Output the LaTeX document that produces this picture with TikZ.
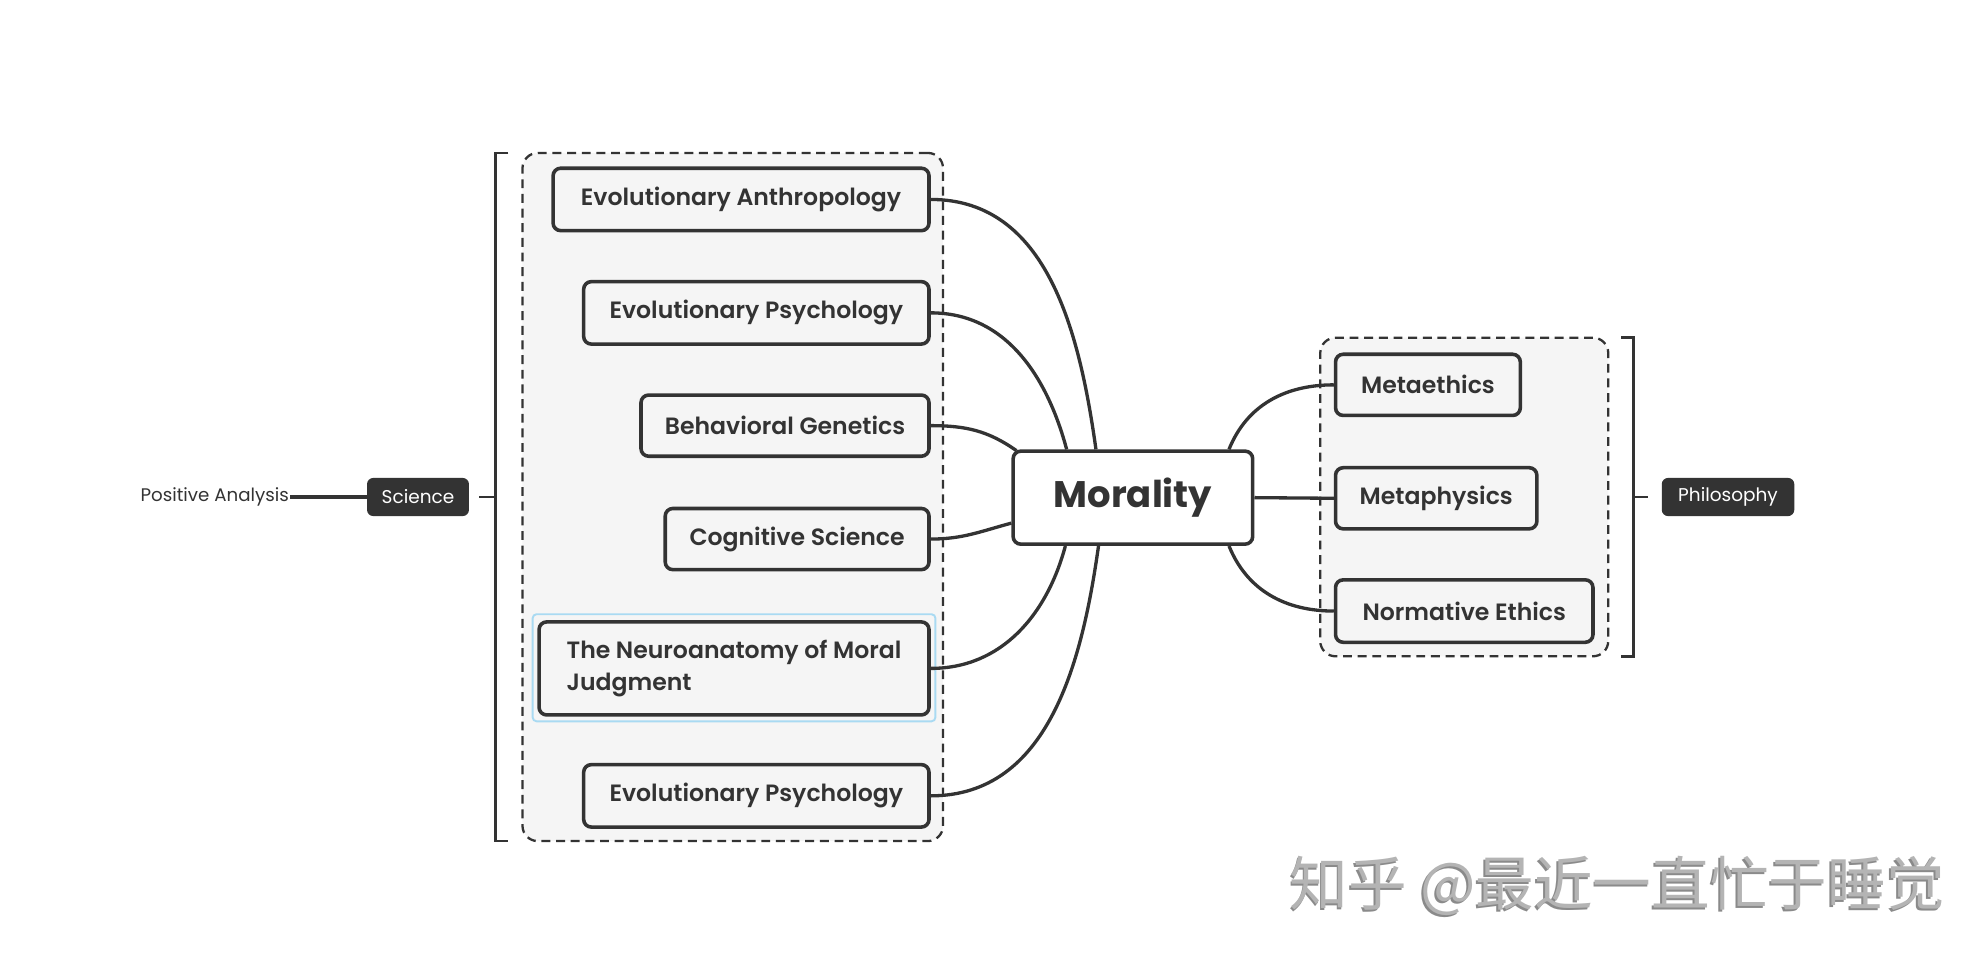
\documentclass[tikz,border=0pt]{standalone}
\usepackage{fontspec}
\setmainfont{Poppins}[BoldFont={Poppins SemiBold}]
\newfontfamily\heavyfont{Poppins Bold}
\newfontfamily\cjk{Noto Sans CJK SC}
\definecolor{dk}{HTML}{333333}
\definecolor{lg}{HTML}{F5F5F5}
\definecolor{hl}{HTML}{A9DAF2}
\definecolor{wmgray}{HTML}{B4B4B4}
\definecolor{wmshadow}{HTML}{8A8A8A}
\begin{document}
\begin{tikzpicture}[x=1pt,y=1pt,
  topic/.style={draw=dk, line width=2.8pt, fill=lg, rounded corners=6pt,
    font=\bfseries\fontsize{18.5}{25}\selectfont, text=dk, inner sep=0pt, align=center},
  central/.style={draw=dk, line width=2.8pt, fill=white, rounded corners=6pt,
    font=\heavyfont\fontsize{29}{33}\selectfont, text=dk, inner sep=0pt,
    minimum width=188pt, minimum height=73pt},
  label/.style={fill=dk, rounded corners=5pt, text=white, inner sep=0pt,
    font=\fontsize{14.5}{17}\selectfont, minimum height=30pt},
  plain/.style={text=dk, inner sep=1pt, font=\fontsize{14.3}{17}\selectfont},
  group/.style={draw=dk, line width=1.8pt, dash pattern=on 7pt off 4.5pt,
    fill=lg, rounded corners=12pt, inner sep=0pt},
  conn/.style={draw=dk, line width=2.6pt},
  brk/.style={draw=dk, line width=2pt},
  wmark/.style={anchor=west, inner sep=0pt, font=\cjk\fontsize{46}{46}\selectfont},
]
\useasboundingbox (0,0) rectangle (1560,-755);

% groups
\node[group, minimum width=330pt, minimum height=540pt] (lgrp) at (575,-390) {};
\node[group, minimum width=226pt, minimum height=250pt] (rgrp) at (1149,-390) {};

% brackets
\draw[brk] (399,-120) -- (389,-120) -- (389,-660) -- (399,-660);
\draw[brk] (376,-390) -- (389,-390);
\draw[brk] (1272,-265) -- (1282,-265) -- (1282,-515) -- (1272,-515);
\draw[brk] (1282,-390) -- (1293,-390);

% highlight of selected topic
\draw[hl, line width=1.5pt, rounded corners=3pt] (418,-482) rectangle (734,-566);

% nodes
\node[central] (mor) at (889,-390.5) {Morality};
\node[topic, minimum width=295pt, minimum height=49pt] (ea) at (581.5,-156.5) {Evolutionary Anthropology};
\node[topic, minimum width=271pt, minimum height=49pt] (ep1) at (593.5,-245.5) {Evolutionary Psychology};
\node[topic, minimum width=226pt, minimum height=48pt] (bg) at (616,-334) {Behavioral Genetics};
\node[topic, minimum width=207pt, minimum height=48pt] (cs) at (625.5,-423) {Cognitive Science};
\node[topic, minimum width=306pt, minimum height=73pt, align=left] (na) at (576,-524.5) {The Neuroanatomy of Moral\\Judgment};
\node[topic, minimum width=271pt, minimum height=49pt] (ep2) at (593.5,-624.5) {Evolutionary Psychology};
\node[topic, minimum width=145pt, minimum height=48pt] (me) at (1120.5,-302) {Metaethics};
\node[topic, minimum width=158pt, minimum height=48pt] (mp) at (1127,-391) {Metaphysics};
\node[topic, minimum width=202pt, minimum height=49pt] (ne) at (1149,-479.5) {Normative Ethics};

\node[label, minimum width=80pt] (sci) at (328,-390) {Science};
\node[label, minimum width=104pt] (phil) at (1356,-390) {Philosophy};
\node[plain] (pa) at (168.5,-390) {Positive Analysis};

% connectors
\draw[conn, line width=3pt] (pa.east) -- (sci.west);
\draw[conn] ([xshift=-29pt]mor.north) to[out=98,in=0] (ea.east);
\draw[conn] ([xshift=-52pt]mor.north) to[out=105,in=0] (ep1.east);
\draw[conn] ([xshift=4pt,yshift=-1pt]mor.north west) to[out=145,in=0] (bg.east);
\draw[conn] ([yshift=-20pt]mor.west) to[out=195,in=0] (cs.east);
\draw[conn] ([xshift=-53pt]mor.south) to[out=-105,in=0] (na.east);
\draw[conn] ([xshift=-27pt]mor.south) to[out=-98,in=0] (ep2.east);
\draw[conn] ([xshift=-20pt]mor.north east) to[out=68,in=180] (me.west);
\draw[conn] (mor.east) -- (mp.west);
\draw[conn] ([xshift=-20pt]mor.south east) to[out=-68,in=180] (ne.west);

% watermark (shadow + text)
\node[wmark, text=wmshadow] (wms) at (1010.5,-697) {知乎 @最近一直忙于睡觉};
\node[wmark, text=wmgray] (wm) at (1012,-695) {知乎 @最近一直忙于睡觉};
\end{tikzpicture}
\end{document}
